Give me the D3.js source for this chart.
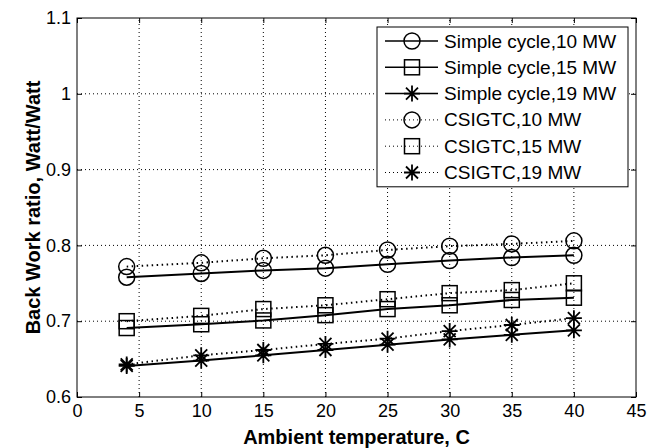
<!DOCTYPE html>
<html><head><meta charset="utf-8">
<script src="https://cdn.jsdelivr.net/npm/d3@7"></script>
<style>
html,body{margin:0;padding:0;background:#fff;}
svg{display:block;}
text{font-family:"Liberation Sans",Arial,sans-serif;fill:#000;}
</style></head>
<body>
<svg id="chart" width="662" height="448"></svg>
<script>
const temps = [4, 10, 15, 20, 25, 30, 35, 40];
const simple10 = [0.758, 0.763, 0.767, 0.770, 0.775, 0.780, 0.784, 0.787];
const simple15 = [0.691, 0.696, 0.701, 0.708, 0.716, 0.721, 0.728, 0.731];
const simple19 = [0.641, 0.648, 0.655, 0.662, 0.669, 0.676, 0.682, 0.688];
const csigtc10 = [0.772, 0.777, 0.783, 0.787, 0.794, 0.799, 0.802, 0.806];
const csigtc15 = [0.700, 0.707, 0.716, 0.721, 0.729, 0.737, 0.741, 0.750];
const csigtc19 = [0.643, 0.655, 0.662, 0.670, 0.677, 0.687, 0.695, 0.704];
const seriesNames = ["Simple cycle,10 MW", "Simple cycle,15 MW", "Simple cycle,19 MW",
                     "CSIGTC,10 MW", "CSIGTC,15 MW", "CSIGTC,19 MW"];
const xTicks = [0, 5, 10, 15, 20, 25, 30, 35, 40, 45];
const yTicks = [0.6, 0.7, 0.8, 0.9, 1.0, 1.1];

const series = [
  {name: seriesNames[0], values: simple10, marker: "circle", dotted: false},
  {name: seriesNames[1], values: simple15, marker: "square", dotted: false},
  {name: seriesNames[2], values: simple19, marker: "star", dotted: false},
  {name: seriesNames[3], values: csigtc10, marker: "circle", dotted: true},
  {name: seriesNames[4], values: csigtc15, marker: "square", dotted: true},
  {name: seriesNames[5], values: csigtc19, marker: "star", dotted: true}
];

const L = 77, R = 636, T = 18, B = 397;
const svg = d3.select("#chart");
const x = d3.scaleLinear().domain([0, 45]).range([L, R]);
const y = d3.scaleLinear().domain([0.6, 1.1]).range([B, T]);

// grid
const grid = svg.append("g").attr("stroke", "#000").attr("stroke-width", 1)
  .attr("stroke-dasharray", "1,3");
xTicks.slice(1, -1).forEach(t => grid.append("line")
  .attr("x1", x(t)).attr("x2", x(t)).attr("y1", B).attr("y2", T));
yTicks.slice(1, -1).forEach(t => grid.append("line")
  .attr("x1", L).attr("x2", R).attr("y1", y(t)).attr("y2", y(t)));

// axes
const fmt = d => String(+d.toFixed(1));
const ax = (g, a) => { g.call(a); g.select(".domain").remove();
  g.selectAll("text").style("font-size", "18px").attr("font-family", "Liberation Sans, Arial, sans-serif"); };
svg.append("g").attr("transform", `translate(0,${B})`)
  .call(g => ax(g, d3.axisBottom(x).tickValues(xTicks).tickSize(-5).tickPadding(7).tickFormat(d3.format("d"))));
svg.append("g").attr("transform", `translate(${L},0)`)
  .call(g => ax(g, d3.axisLeft(y).tickValues(yTicks).tickSize(-5).tickPadding(6).tickFormat(fmt)));
svg.append("g").attr("transform", `translate(0,${T})`)
  .call(g => { g.call(d3.axisTop(x).tickValues(xTicks).tickSize(-5).tickFormat("")); g.select(".domain").remove(); });
svg.append("g").attr("transform", `translate(${R},0)`)
  .call(g => { g.call(d3.axisRight(y).tickValues(yTicks).tickSize(-5).tickFormat("")); g.select(".domain").remove(); });
svg.append("rect").attr("x", L).attr("y", T).attr("width", R - L).attr("height", B - T)
  .attr("fill", "none").attr("stroke", "#000").attr("stroke-width", 1);

// titles
svg.append("text").attr("x", (L + R) / 2).attr("y", 444).attr("text-anchor", "middle")
  .style("font-size", "20px").style("font-weight", "bold").text("Ambient temperature, C");
svg.append("text").attr("transform", `translate(40,${(T + B) / 2}) rotate(-90)`)
  .attr("text-anchor", "middle").style("font-size", "20px").style("font-weight", "bold")
  .text("Back Work ratio, Watt/Watt");

function drawMarker(g, type, cx, cy) {
  if (type === "circle") {
    g.append("circle").attr("cx", cx).attr("cy", cy).attr("r", 8)
      .attr("fill", "none").attr("stroke", "#000").attr("stroke-width", 1.5);
  } else if (type === "square") {
    g.append("rect").attr("x", cx - 7.5).attr("y", cy - 7.5).attr("width", 15).attr("height", 15)
      .attr("fill", "none").attr("stroke", "#000").attr("stroke-width", 1.5);
  } else {
    const r = 8, d = r * 0.75;
    const p = `M${cx - r},${cy}L${cx + r},${cy}M${cx},${cy - r}L${cx},${cy + r}` +
      `M${cx - d},${cy - d}L${cx + d},${cy + d}M${cx - d},${cy + d}L${cx + d},${cy - d}`;
    g.append("path").attr("d", p).attr("stroke", "#000").attr("stroke-width", 1.8).attr("fill", "none");
  }
}

const line = d3.line().x(d => x(d[0])).y(d => y(d[1]));
series.forEach(s => {
  const pts = temps.map((t, i) => [t, s.values[i]]);
  const g = svg.append("g");
  g.append("path").attr("d", line(pts)).attr("fill", "none").attr("stroke", "#000")
    .attr("stroke-width", 2).attr("stroke-dasharray", s.dotted ? "1.5,3.5" : null);
  pts.forEach(p => drawMarker(g, s.marker, x(p[0]), y(p[1])));
});

// legend
const lx = 377, ly = 27, lw = 251, rowH = 26.3;
const lg = svg.append("g");
lg.append("rect").attr("x", lx).attr("y", ly).attr("width", lw).attr("height", rowH * 6 + 2)
  .attr("fill", "#fff").attr("stroke", "#000").attr("stroke-width", 1);
series.forEach((s, i) => {
  const cy = ly + 14 + i * rowH;
  lg.append("line").attr("x1", lx + 8).attr("x2", lx + 61).attr("y1", cy).attr("y2", cy)
    .attr("stroke", "#000").attr("stroke-width", s.dotted ? 1 : 1.5)
    .attr("stroke-dasharray", s.dotted ? "1,3" : null);
  drawMarker(lg, s.marker, lx + 35, cy);
  lg.append("text").attr("x", lx + 67).attr("y", cy + 6.5).style("font-size", "19px").text(s.name);
});
</script>
</body></html>
